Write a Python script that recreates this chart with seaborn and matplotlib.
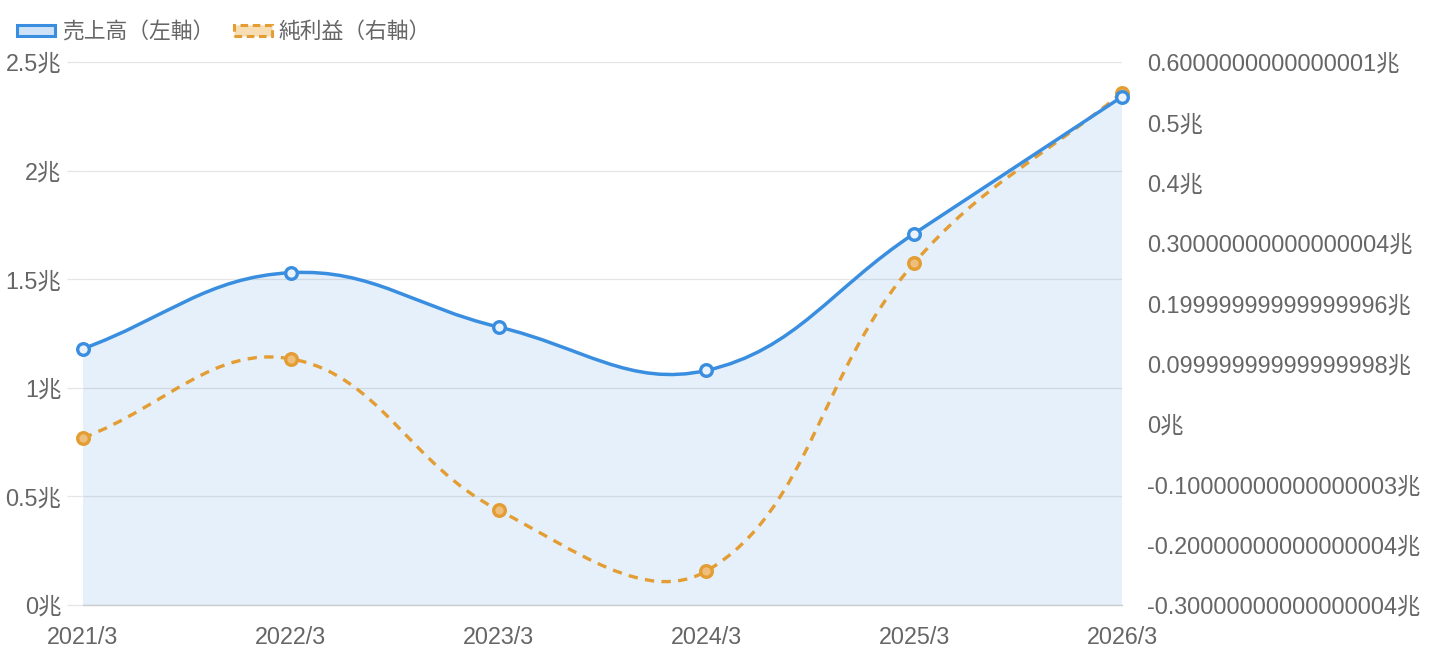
import numpy as np
import seaborn as sns
import matplotlib
matplotlib.use("Agg")
import matplotlib.pyplot as plt
from matplotlib.path import Path
from matplotlib.patches import PathPatch, Patch
from matplotlib.transforms import blended_transform_factory

# data (兆円)
periods = ["2021/3", "2022/3", "2023/3", "2024/3", "2025/3", "2026/3"]
sales = [1.18, 1.53, 1.28, 1.08, 1.71, 2.34]          # 売上高, left axis
profit = [-0.023, 0.108, -0.143, -0.244, 0.267, 0.549]  # 純利益, right axis

left_ticks = [0, 0.5, 1, 1.5, 2, 2.5]
left_labels = ["0兆", "0.5兆", "1兆", "1.5兆", "2兆", "2.5兆"]
right_ticks = [-0.3, -0.2, -0.1, 0, 0.1, 0.2, 0.3, 0.4, 0.5, 0.6]
right_labels = ["-0.30000000000000004兆", "-0.20000000000000004兆", "-0.10000000000000003兆",
                "0兆", "0.09999999999999998兆", "0.19999999999999996兆",
                "0.30000000000000004兆", "0.4兆", "0.5兆", "0.6000000000000001兆"]
series_names = ["売上高（左軸）", "純利益（右軸）"]

BLUE = "#3a8ee0"
ORANGE = "#e39d32"
TEXT = "#666666"
GRID = "#e5e5e5"
FS = 16.8

sns.set_theme(style="white")
plt.rcParams["font.family"] = ["Liberation Sans", "Noto Sans CJK JP", "DejaVu Sans"]

fig = plt.figure(figsize=(14.4, 6.6), dpi=100)
ax = fig.add_axes([83 / 1440, 55 / 660, 1039 / 1440, 543 / 660])
ax2 = ax.twinx()

x = list(range(len(periods)))
ax.set_xlim(0, len(periods) - 1)
ax.set_ylim(0, 2.5)
ax2.set_ylim(-0.3, 0.6)


def smooth_path(axis, xs, ys, tension=0.4, close_to=None):
    # Chart.js-like bezier spline, control points computed in pixel space
    pts = axis.transData.transform(np.column_stack([xs, ys]))
    bb = axis.bbox
    n = len(pts)
    cps = []
    for i in range(n):
        p0 = pts[max(i - 1, 0)]
        p1 = pts[i]
        p2 = pts[min(i + 1, n - 1)]
        d01 = np.hypot(*(p1 - p0))
        d12 = np.hypot(*(p2 - p1))
        tot = d01 + d12
        s01 = d01 / tot if tot else 0
        s12 = d12 / tot if tot else 0
        prev = p1 - tension * s01 * (p2 - p0)
        nxt = p1 + tension * s12 * (p2 - p0)
        prev = np.clip(prev, [bb.x0, bb.y0], [bb.x1, bb.y1])
        nxt = np.clip(nxt, [bb.x0, bb.y0], [bb.x1, bb.y1])
        cps.append((prev, nxt))
    verts = [pts[0]]
    codes = [Path.MOVETO]
    for i in range(1, n):
        verts += [cps[i - 1][1], cps[i][0], pts[i]]
        codes += [Path.CURVE4] * 3
    verts = list(axis.transData.inverted().transform(np.array(verts)))
    if close_to is not None:
        verts += [(xs[-1], close_to), (xs[0], close_to), (xs[0], close_to)]
        codes += [Path.LINETO, Path.LINETO, Path.CLOSEPOLY]
    return Path(verts, codes)


# left axis on top so the blue series overlays the orange one
ax.set_zorder(ax2.get_zorder() + 1)
ax.patch.set_visible(False)

# horizontal grid under everything
ax2.hlines(left_ticks, 0, 1, color=GRID, lw=0.9, zorder=0,
           transform=blended_transform_factory(ax2.transAxes, ax.transData))

# fill under sales
fill = PathPatch(smooth_path(ax, x, sales, close_to=0), transform=ax.transData,
                 facecolor=BLUE, alpha=0.13, edgecolor="none", zorder=1)
ax2.add_patch(fill)

# profit line (right axis)
ax2.add_patch(PathPatch(smooth_path(ax2, x, profit), facecolor="none", edgecolor=ORANGE,
                        lw=2.4, linestyle=(0, (2.8, 2.2)), zorder=2, capstyle="butt"))
sns.scatterplot(x=x, y=profit, ax=ax2, s=70, color="#eebf7c", edgecolor=ORANGE,
                linewidth=2.4, zorder=3, clip_on=False)

# sales line (left axis)
ax.add_patch(PathPatch(smooth_path(ax, x, sales), facecolor="none", edgecolor=BLUE,
                       lw=2.5, zorder=2, capstyle="round"))
sns.scatterplot(x=x, y=sales, ax=ax, s=70, color="#eaf2fc", edgecolor=BLUE,
                linewidth=2.4, zorder=3, clip_on=False)

# axes styling
ax.set_xticks(x, periods)
ax.set_yticks(left_ticks, left_labels)
ax2.set_yticks(right_ticks, right_labels)
ax.tick_params(axis="x", length=0, pad=15, labelsize=FS, labelcolor=TEXT)
ax.tick_params(axis="y", length=11.5, width=0.9, color=GRID, pad=4,
               labelsize=FS, labelcolor=TEXT, left=True)
ax2.tick_params(axis="y", length=0, pad=18, labelsize=FS, labelcolor=TEXT)
ax.grid(False)
ax2.grid(False)
ax.set_xlabel("")
ax.set_ylabel("")
ax2.set_ylabel("")
for sp in list(ax.spines.values()) + list(ax2.spines.values()):
    sp.set_visible(False)
ax.spines["bottom"].set_visible(True)
ax.spines["bottom"].set_color("#cccccc")
ax.spines["bottom"].set_linewidth(1.0)

# legend
handles = [
    Patch(facecolor="#cfe2f7", edgecolor=BLUE, lw=2.2),
    Patch(facecolor="#f6ddb4", edgecolor=ORANGE, lw=2.2, linestyle=(0, (2.5, 1.5))),
]
leg = fig.legend(handles, series_names, loc="upper left", bbox_to_anchor=(2 / 1440, 1 - 7 / 660),
                 ncol=2, frameon=False, fontsize=15.7, handlelength=1.75, handleheight=0.34,
                 handletextpad=0.3, columnspacing=0.9, borderpad=0.2)
for t in leg.get_texts():
    t.set_color(TEXT)
for a in (ax, ax2):
    if a.get_legend():
        a.get_legend().remove()

fig.savefig("out.png", dpi=100, facecolor="white")
